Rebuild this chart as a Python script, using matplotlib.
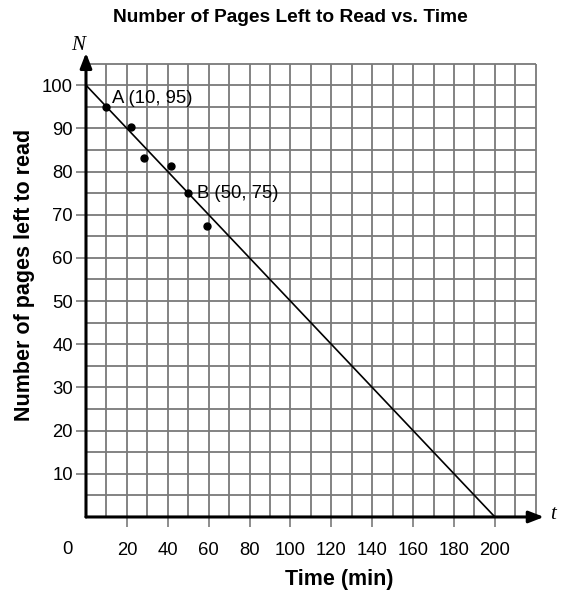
import matplotlib.pyplot as plt
import numpy as np

plt.rcParams['font.family'] = ['Liberation Sans', 'DejaVu Sans']

# data
time_pts = [10, 22, 28.5, 41.5, 50, 59]
pages_pts = [95, 90.4, 83.1, 81.2, 75, 67.4]
line_t = [0, 200]
line_n = [100, 0]
x_ticks = [20, 40, 60, 80, 100, 120, 140, 160, 180, 200]
y_ticks = [10, 20, 30, 40, 50, 60, 70, 80, 90, 100]
labels = ['A (10, 95)', 'B (50, 75)']
label_pos = [(12.6, 97), (54.2, 75)]

fig = plt.figure(figsize=(5.65, 5.96), dpi=100)
ax = fig.add_axes([0.1522, 0.1326, 0.8142, 0.7752])
ax.set_xlim(0, 225)
ax.set_ylim(0, 107)
for s in ax.spines.values():
    s.set_visible(False)

grid_c = '#7a7a7a'
ax.vlines(np.arange(10, 221, 10), 0, 105, color=grid_c, lw=1.3, zorder=1)
ax.hlines(np.arange(5, 106, 5), 0, 220, color=grid_c, lw=1.3, zorder=1)

# axes with arrows
ax.annotate('', xy=(224, 0), xytext=(0, 0),
            arrowprops=dict(arrowstyle='-|>,head_length=0.9,head_width=0.35', lw=2.2, color='black', shrinkA=0, shrinkB=0),
            annotation_clip=False, zorder=4)
ax.annotate('', xy=(0, 107.5), xytext=(0, 0),
            arrowprops=dict(arrowstyle='-|>,head_length=0.9,head_width=0.35', lw=2.2, color='black', shrinkA=0, shrinkB=0),
            annotation_clip=False, zorder=4)

ax.plot(line_t, line_n, color='black', lw=1.2, zorder=3)
ax.plot(time_pts, pages_pts, 'o', color='black', ms=5, zorder=5)
for txt, (tx, ty) in zip(labels, label_pos):
    ax.text(tx, ty, txt, fontsize=13.3, ha='left', va='center', zorder=6)

ax.set_xticks(x_ticks)
ax.set_yticks(y_ticks)
ax.tick_params(axis='x', direction='out', length=7, width=1.2, color=grid_c, pad=11, labelsize=13.3)
ax.tick_params(axis='y', direction='out', length=7, width=1.2, color=grid_c, pad=2.5, labelsize=13.3)
# "0" sits left of the origin, with no tick mark
fig.text(67 / 565, 1 - 549.5 / 596, '0', fontsize=13.3, ha='center', va='center')

ax.text(-3.9, 109.3, 'N', fontsize=15, fontstyle='italic', family='Liberation Serif', ha='center', va='center')
ax.text(228.4, 0.5, 't', fontsize=15, fontstyle='italic', family='Liberation Serif', ha='center', va='center')

fig.text(339 / 565, 1 - 580 / 596, 'Time (min)', fontsize=15.5, fontweight='bold', ha='center', va='center')
fig.text(25 / 565, 1 - 275 / 596, 'Number of pages left to read', fontsize=15.5, fontweight='bold',
         rotation=90, ha='center', va='center')
fig.text(290.5 / 565, 1 - 18 / 596, 'Number of Pages Left to Read vs. Time', fontsize=13.8,
         fontweight='bold', ha='center', va='center')

fig.savefig('out.png', dpi=100)
